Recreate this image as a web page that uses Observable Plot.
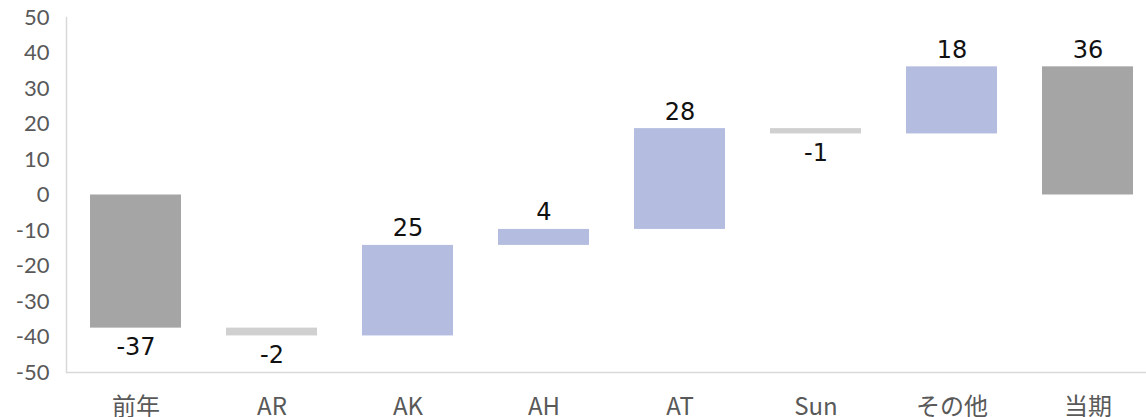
<!DOCTYPE html>
<html>
<head>
<meta charset="utf-8">
<script src="https://cdn.jsdelivr.net/npm/d3@7"></script>
<script src="https://cdn.jsdelivr.net/npm/@observablehq/plot@0.6"></script>
<style>
  html, body { margin: 0; padding: 0; background: #fff; }
  #chart svg { display: block; overflow: hidden; }
</style>
</head>
<body>
<div id="chart"></div>
<script>
// ---- data ----
const categories = ["前年", "AR", "AK", "AH", "AT", "Sun", "その他", "当期"];
const values = [-37.5, -2.2, 25.5, 4.5, 28.4, -1.5, 18.9, 36.1];
const kinds = ["total", "decrease", "increase", "increase", "increase", "decrease", "increase", "total"];
const labels = ["-37", "-2", "25", "4", "28", "-1", "18", "36"];
const yTicks = [50, 40, 30, 20, 10, 0, -10, -20, -30, -40, -50];

// ---- build waterfall table ----
let running = 0;
const rows = categories.map((c, i) => {
  let y1, y2;
  if (kinds[i] === "total") { y1 = 0; y2 = values[i]; running = values[i]; }
  else { y1 = running; y2 = running + values[i]; running = y2; }
  return {cat: c, y1, y2, kind: kinds[i], label: labels[i], up: y2 >= y1};
});
const upRows = rows.filter(d => d.up);
const downRows = rows.filter(d => !d.up);

const chart = Plot.plot({
  width: 1146,
  height: 417,
  marginLeft: 66,
  marginRight: 0,
  marginTop: 17,
  marginBottom: 45,
  style: {background: "#fff"},
  x: {domain: categories, range: [66, 1156], paddingInner: 0.334, paddingOuter: 0.167},
  y: {domain: [-50, 50]},
  color: {domain: ["total", "increase", "decrease"], range: ["#a5a5a5", "#b4bde0", "#d0d0d0"]},
  marks: [
    Plot.barY(rows, {x: "cat", y1: "y1", y2: "y2", fill: "kind"}),
    Plot.ruleY([-50], {stroke: "#d9d9d9", strokeWidth: 1.5}),
    Plot.frame({anchor: "left", stroke: "#d9d9d9", strokeWidth: 1.5}),
    Plot.text(upRows, {x: "cat", y: d => Math.max(d.y1, d.y2), text: "label", lineAnchor: "bottom", dy: -9,
      fontSize: 24, fontFamily: "DejaVu Sans", fill: "#111"}),
    Plot.text(downRows, {x: "cat", y: d => Math.min(d.y1, d.y2), text: "label", lineAnchor: "top", dy: 10,
      fontSize: 24, fontFamily: "DejaVu Sans", fill: "#111"}),
    Plot.axisY({ticks: yTicks, tickSize: 0, tickPadding: 17, fontSize: 22, fontFamily: "Lato",
      fill: "#595959", tickFormat: d => String(d), label: null}),
    Plot.axisX({tickSize: 0, tickPadding: 25, fontSize: 24, fontFamily: "Noto Sans CJK JP",
      fill: "#595959", label: null})
  ]
});
document.getElementById("chart").appendChild(chart);
</script>
</body>
</html>
